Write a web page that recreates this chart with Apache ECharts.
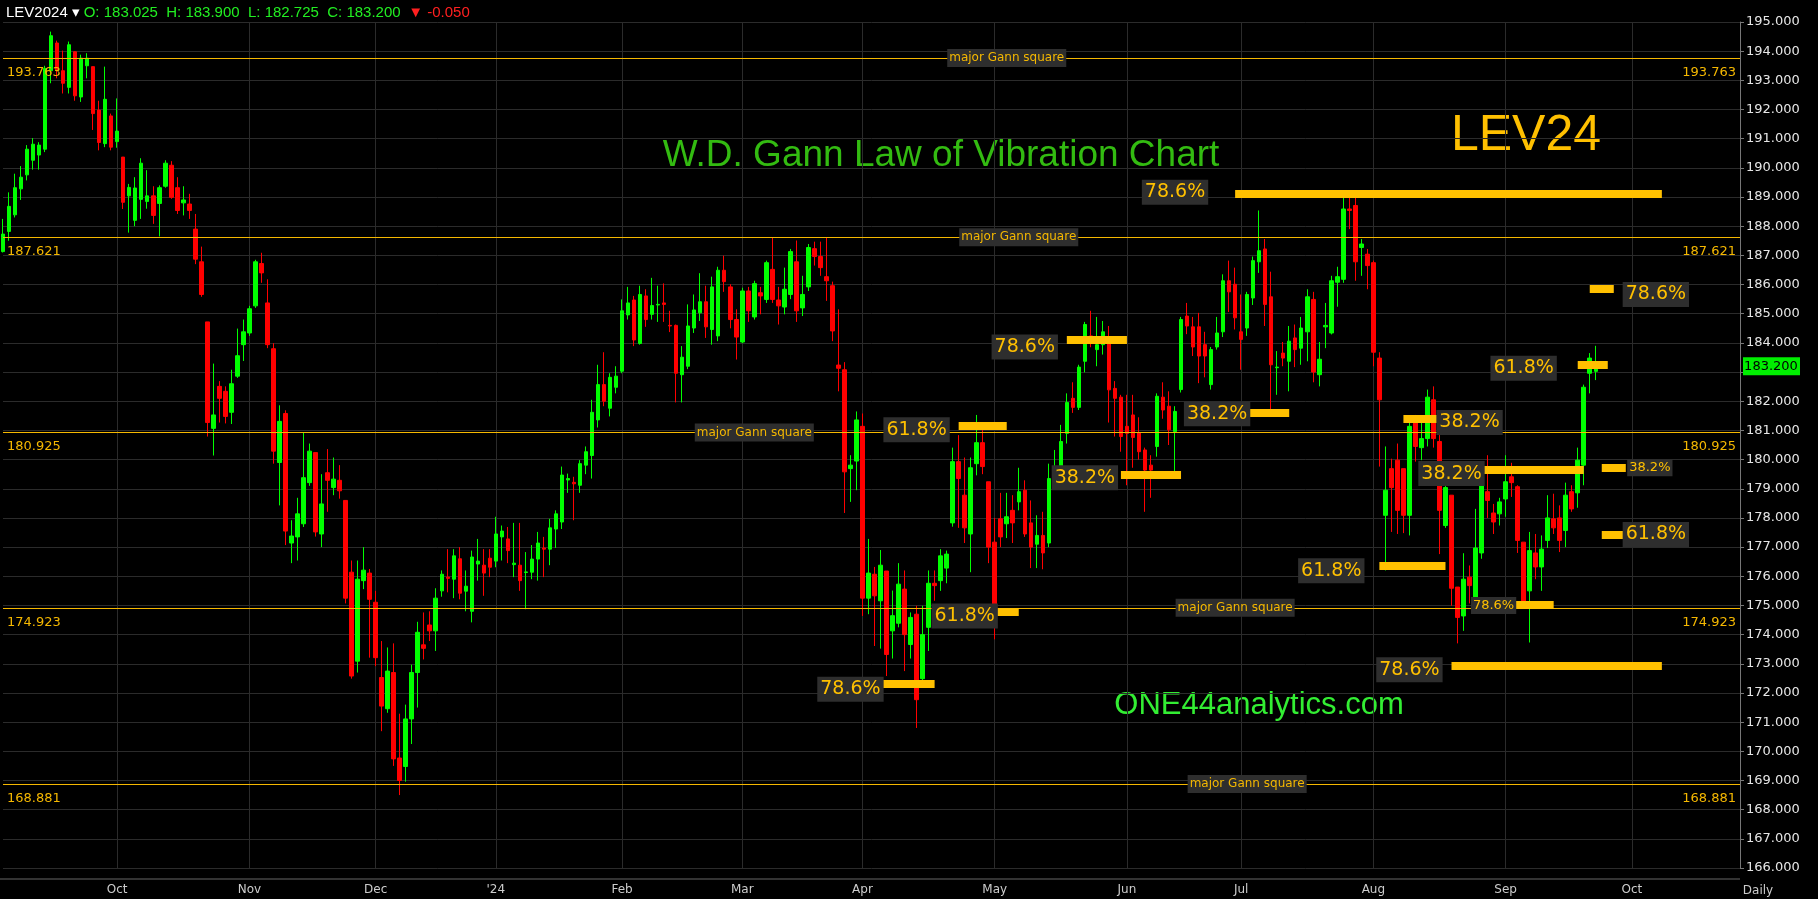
<!DOCTYPE html>
<html><head><meta charset="utf-8">
<script src="https://cdn.jsdelivr.net/npm/echarts@6/dist/echarts.min.js"></script>
<style>html,body{margin:0;padding:0;background:#000}#c{width:1818px;height:899px}</style>
</head><body><div id="c"></div>
<script>
const startDate = '2023-09-05';
const holidays = ['2023-11-23','2023-12-25','2024-01-01','2024-01-15','2024-02-19','2024-03-29','2024-05-27','2024-06-19','2024-07-04'];
const padDays = 24;
const opens = [187.13,187.82,188.39,189.28,189.76,190.26,190.44,190.64,193.33,194.28,
193.33,192.76,193.98,192.43,193.5,193.47,191.98,190.83,191.78,190.9,
190.37,189.04,188.2,188.92,188.85,189.04,188.78,189.37,190.09,189.32,
188.8,188.76,187.9,186.78,184.72,181.07,182.51,182.34,181.62,182.86,
183.94,184.34,185.27,186.72,185.37,183.8,179.9,181.58,177.14,177.35,
177.8,179.21,180.24,177.45,179.55,179.04,179.29,178.6,176.14,173.09,
175.85,176.11,175.11,172.53,171.46,172.7,169.77,169.48,171.11,172.7,
173.65,174.33,174.13,175.5,175.97,175.9,176.6,175.49,174.8,176.42,
176.38,176.62,176.52,177.35,177.28,176.4,176.38,176.13,176.14,176.59,
176.97,176.93,177.62,177.86,179.3,179.22,179.12,179.81,180.14,181.36,
182.57,181.76,182.48,183.03,184.96,185.47,183.98,185.61,184.98,185.3,
185.37,184.6,184.6,182.91,183.2,184.51,185.03,185.41,184.46,184.24,
186.49,185.92,184.8,184.03,185.78,184.89,185.72,185.49,186.52,185.47,
185.23,185.66,186.78,185.2,185.92,187.23,186.96,186.27,185.96,183.24,
183.08,179.69,179.95,181.14,175.25,176.07,175.16,176.18,174.13,174.39,
175.56,173.66,174.7,172.49,174.25,175.76,175.85,176.28,177.83,179.93,
178.78,177.45,179.86,180.58,179.24,177.17,177.97,177.8,178.26,178.55,
178.95,177.83,177.1,177.4,177.14,179.58,179.76,180.9,182.1,181.79,
183.37,184.24,183.77,183.94,184.12,182.44,182.14,181.14,181.53,180.93,
180.33,179.81,180.45,182.14,181.83,180.96,182.4,184.92,184.55,184.55,
183.94,182.57,183.86,184.38,186.13,186.01,184.38,184.51,185.54,186.78,
187.22,185.58,183.15,183.65,183.37,184.17,183.82,184.38,185.49,182.91,
184.55,184.34,186.08,186.18,188.59,188.71,187.27,187.04,186.75,183.48,
178.09,179.69,179.98,179.69,178.09,181.27,180.41,180.72,182.05,180.62,
177.74,178.78,175.63,174.64,175.97,175.25,176.8,178.9,178.17,178.14,
178.65,179.41,179.07,177.17,175.5,176.8,176.32,177.23,177.97,178.0,
177.57,178.9,178.86,179.81,182.96,183.025];
const highs = [188.25,189.16,189.80,190.06,190.78,191.02,190.88,193.5,194.67,194.36,
194.02,194.33,194.0,193.88,193.93,193.47,192.3,193.47,191.86,192.38,
190.37,189.45,189.68,190.33,189.92,189.37,189.4,190.26,190.23,189.68,
189.37,189.11,188.42,187.3,184.72,183.29,182.69,182.51,183.08,184.49,
184.8,185.27,186.85,187.09,186.18,183.99,181.86,181.69,177.92,178.69,
180.93,180.55,180.24,179.5,180.36,180.07,179.81,178.6,176.54,176.54,
177.0,176.25,175.5,173.78,173.56,173.7,171.29,171.6,172.97,174.44,
174.76,174.8,175.59,176.2,176.93,176.93,177.0,176.2,176.88,177.28,
176.93,176.93,178.04,177.74,177.69,177.83,177.83,176.83,177.07,177.52,
177.35,177.97,178.26,179.76,179.52,179.41,179.98,180.45,182.05,183.25,
183.68,182.96,183.2,185.49,185.92,185.61,185.96,185.84,186.23,185.96,
186.04,185.1,184.63,183.89,185.32,185.66,186.39,185.96,186.27,186.61,
186.99,186.01,185.15,185.89,185.92,186.13,185.92,186.82,187.61,185.92,
186.58,187.22,187.51,186.3,187.39,187.47,187.47,187.61,186.1,185.15,
183.34,180.15,181.65,181.58,177.28,176.32,176.9,176.18,175.51,176.45,
176.2,174.76,174.99,174.99,176.2,176.2,176.93,176.88,180.41,180.84,
180.07,180.07,181.53,181.1,179.24,178.0,178.86,178.86,178.78,179.72,
179.29,178.6,178.09,178.21,179.86,180.33,181.19,182.27,182.65,183.25,
184.72,185.1,184.89,184.75,184.58,182.69,182.22,182.22,182.22,181.45,
180.41,180.15,182.27,182.65,182.34,181.83,184.89,185.37,184.89,185.03,
184.38,183.86,184.89,186.35,186.82,186.58,185.66,185.75,186.96,188.54,
187.56,186.44,183.72,184.03,184.58,184.63,184.89,185.84,185.75,184.03,
185.37,186.3,186.61,189.02,189.02,189.02,187.56,187.22,186.82,183.68,
180.45,180.03,180.55,179.69,181.36,181.53,181.36,182.4,182.51,180.84,
179.12,178.78,175.63,176.79,176.37,178.31,179.29,180.15,178.48,178.69,
180.15,179.89,179.12,177.17,177.52,177.45,177.4,178.78,178.83,178.43,
179.21,179.12,180.41,182.57,183.65,183.9];
const lows = [187.1,187.5,188.3,188.9,189.57,189.94,189.94,190.54,192.9,193.07,
192.55,192.55,192.3,192.26,193.07,191.3,190.6,190.71,190.6,190.69,
188.59,187.78,188.0,188.25,188.6,188.08,187.65,189.32,188.94,188.42,
188.37,188.25,186.7,185.58,180.79,180.14,181.27,181.24,181.22,182.8,
183.38,184.24,185.2,186.06,183.82,179.86,178.43,177.07,176.45,176.54,
177.69,179.1,177.36,177.0,178.21,178.78,178.66,175.07,172.49,172.7,
175.56,173.21,172.92,170.69,171.32,169.5,168.5,168.96,170.25,171.5,
173.15,173.78,173.44,175.3,175.45,175.25,175.21,174.8,174.42,175.85,
175.33,175.97,176.31,176.54,176.45,175.97,175.5,174.87,175.9,175.85,
175.97,176.38,176.97,177.62,178.86,177.92,178.86,179.5,179.35,181.1,
181.83,181.48,182.27,182.96,184.8,183.89,183.94,184.55,184.8,184.72,
184.72,184.37,181.96,181.96,183.1,184.34,184.75,184.17,183.94,184.06,
185.75,184.5,183.43,183.99,184.72,184.8,184.98,185.37,185.37,184.63,
184.98,185.5,184.72,184.92,185.78,186.65,186.3,185.44,184.06,182.34,
178.17,178.55,178.95,174.64,174.7,173.61,173.52,172.58,173.18,174.25,
172.75,173.18,170.8,172.4,173.44,175.16,175.5,175.76,177.7,177.66,
177.14,176.14,179.46,179.5,176.45,173.84,177.0,177.31,177.14,178.26,
177.35,176.28,176.28,176.24,177.0,179.17,179.6,180.55,181.6,181.7,
182.99,183.85,183.2,183.6,181.27,180.79,180.27,179.12,179.72,180.0,
178.21,178.69,180.1,181.4,180.5,179.55,182.3,184.3,183.55,182.62,
182.82,182.4,183.77,184.2,185.06,184.46,183.08,184.24,185.3,186.4,
184.58,181.7,182.22,183.2,182.34,183.17,183.25,183.37,182.65,182.51,
183.82,184.29,185.24,186.06,187.9,186.13,186.3,185.84,183.2,179.76,
176.2,177.52,177.45,177.48,177.4,179.93,179.98,180.45,180.41,176.76,
177.66,174.99,173.7,174.13,175.07,174.87,176.6,178.0,177.45,177.74,
178.04,178.72,176.8,174.99,173.73,175.9,175.5,176.97,177.45,176.83,
177.0,178.21,178.35,179.12,182.27,182.725];
const closes = [187.73,188.68,189.32,189.68,190.64,190.81,190.78,193.41,194.53,193.36,
192.9,194.22,192.47,193.76,193.76,191.86,190.87,192.35,190.71,191.26,
188.82,189.33,189.31,190.16,189.04,188.37,189.32,190.16,188.99,188.54,
188.9,188.54,186.87,185.66,181.27,181.53,182.1,181.48,182.6,183.56,
184.38,185.17,186.78,186.4,183.94,180.29,181.31,177.55,177.38,178.14,
179.38,180.29,177.52,178.48,179.29,179.33,178.93,175.25,172.58,175.9,
176.21,175.21,173.21,171.55,172.75,169.74,169.0,171.11,172.7,174.08,
173.53,174.13,175.25,176.07,175.93,176.7,175.42,175.66,176.66,176.52,
176.11,176.31,177.45,177.55,176.88,176.45,175.85,176.15,176.59,177.14,
176.93,177.66,178.14,179.47,179.35,179.17,179.86,180.27,181.62,182.57,
182.0,182.82,182.86,185.1,185.37,184.1,185.66,184.8,185.28,185.32,
185.32,184.58,182.96,183.51,184.58,185.13,185.41,184.55,185.92,186.49,
186.1,184.8,184.2,185.78,185.1,186.03,185.61,186.75,185.49,185.27,
185.84,187.13,185.1,185.66,187.27,186.96,186.58,186.13,184.41,183.13,
179.58,179.81,181.36,175.25,176.11,175.33,176.38,173.32,174.65,175.73,
174.0,174.59,171.77,174.0,175.76,175.68,176.7,176.76,179.93,179.35,
177.66,179.72,180.58,179.76,177.0,174.87,177.35,178.04,177.83,178.9,
177.45,177.0,177.4,176.8,179.35,179.69,180.62,181.96,181.79,183.17,
184.63,184.03,183.94,184.38,182.39,182.1,180.79,180.9,180.76,180.27,
179.64,179.64,182.17,181.7,181.02,181.65,184.8,184.58,183.86,183.55,
183.55,183.77,184.34,186.13,185.75,184.86,184.12,185.66,186.82,187.16,
185.32,183.25,183.17,183.48,184.06,183.77,184.51,185.58,183.0,183.44,
184.6,186.13,186.27,188.59,188.54,186.78,187.39,186.65,183.68,182.05,
178.95,179.04,178.26,178.09,181.14,180.45,180.72,182.14,180.72,178.26,
179.04,175.59,174.59,175.9,175.68,176.97,179.12,178.6,177.86,178.55,
179.24,179.21,177.23,175.11,176.88,176.32,176.93,178.0,177.66,177.23,
178.78,178.31,179.98,182.48,183.48,183.2];
const gannLevels = [193.763, 187.621, 180.925, 174.923, 168.881];
const gannLabelIdx = [167, 169, 125, 205, 207];
// Fib bars: [label, level, startIdx, endIdx]
const fibBars = [
 ['78.6%',189.11,205,276],['78.6%',184.12,177,187],['61.8%',181.17,159,167],
 ['38.2%',179.47,186,196],['38.2%',181.62,207,214],['61.8%',174.77,164,169],
 ['78.6%',172.32,145,155],['78.6%',185.87,264,268],['61.8%',183.25,262,267],
 ['38.2%',181.39,233,239],['38.2%',179.64,246,263],['38.2%',179.72,266,270],
 ['61.8%',177.43,266,270],['61.8%',176.35,229,240],['78.6%',175.02,251,258],
 ['78.6%',172.94,241,276]];
// Fib labels: [text, idx, value, small]
const fibLabels = [
 ['78.6%',195,189.16,0],['78.6%',170,183.86,0],['61.8%',152,181.02,0],
 ['38.2%',180,179.38,0],['38.2%',202,181.57,0],['61.8%',160,174.64,0],
 ['78.6%',141,172.13,0],['78.6%',275,185.66,0],['61.8%',253,183.13,0],
 ['38.2%',244,181.27,0],['38.2%',241,179.52,0],['38.2%',274,179.72,1],
 ['61.8%',275,177.43,0],['61.8%',221,176.19,0],['78.6%',248,175.0,1],
 ['78.6%',234,172.8,0]];
const lastClose = 183.200;

const hol = new Set(holidays);
const dates = [];
let d = new Date(startDate + 'T12:00:00Z');
const total = closes.length + padDays;
while (dates.length < total) {
  const wd = d.getUTCDay();
  const s = d.toISOString().slice(0,10);
  if (wd !== 0 && wd !== 6 && !hol.has(s)) dates.push(s);
  d.setUTCDate(d.getUTCDate() + 1);
}
const mNames = ['Jan','Feb','Mar','Apr','May','Jun','Jul','Aug','Sep','Oct','Nov','Dec'];
const monthStart = {};
for (let i = 1; i < dates.length; i++) {
  if (dates[i].slice(5,7) !== dates[i-1].slice(5,7)) {
    const m = +dates[i].slice(5,7);
    monthStart[i] = (m === 1) ? "'24" : mNames[m-1];
  }
}
const candles = opens.map((o,i)=>[o, closes[i], lows[i], highs[i]]);

const GOLD = '#f5b800', FIB = '#ffc000';
const markLineData = [];
gannLevels.forEach(v => {
  markLineData.push({yAxis: v, lineStyle:{color:GOLD,width:1.2,type:'solid'},
    label:{show:true,position:'insideStartBottom',formatter:v.toFixed(3),color:GOLD,fontSize:13,fontFamily:'DejaVu Sans',distance:[4,8]}});
  markLineData.push({yAxis: v, lineStyle:{color:GOLD,width:1.2,type:'solid'},
    label:{show:true,position:'insideEndBottom',formatter:v.toFixed(3),color:GOLD,fontSize:13,fontFamily:'DejaVu Sans',distance:[4,8]}});
});
fibBars.forEach(b => {
  markLineData.push([{coord:[b[2], b[1]], lineStyle:{color:FIB,width:8,type:'solid'}, label:{show:false}},
                     {coord:[b[3], b[1]]}]);
});

const markPointData = [];
gannLevels.forEach((v,i) => markPointData.push({coord:[gannLabelIdx[i], v], symbolSize:0,
  label:{show:true,formatter:'major Gann square',color:GOLD,backgroundColor:'#2e2e2e',fontSize:12,
         fontFamily:'DejaVu Sans',padding:[3,2],position:'inside'}}));
fibLabels.forEach(f => markPointData.push({coord:[f[1], f[2]], symbolSize:0,
  label:{show:true,formatter:f[0],color:FIB,backgroundColor:'#2e2e2e',fontSize:f[3]?13:19,
         fontFamily:'DejaVu Sans',padding:f[3]?[2,2]:[3,3],position:'inside'}}));

const chart = echarts.init(document.getElementById('c'));
chart.setOption({
  backgroundColor:'#000',
  animation:false,
  grid:{left:3,right:78,top:22,height:846},
  xAxis:{type:'category',data:dates,boundaryGap:false,
    axisLine:{show:false},axisTick:{show:false},
    axisLabel:{interval:(i)=>monthStart[i]!==undefined,formatter:(v,i)=>monthStart[i]||'',
      color:'#ccc',fontSize:12,fontFamily:'DejaVu Sans',margin:16},
    splitLine:{show:true,interval:(i)=>monthStart[i]!==undefined,lineStyle:{color:'#2b2b2b',width:1}}},
  yAxis:{type:'value',position:'right',min:166,max:195,interval:1,scale:true,
    axisLine:{show:true,lineStyle:{color:'#777'}},axisTick:{show:true,length:4,lineStyle:{color:'#777'}},
    axisLabel:{formatter:v=>v.toFixed(3),color:'#e6e6e6',fontSize:13,fontFamily:'DejaVu Sans',margin:6},
    splitLine:{lineStyle:{color:'#2b2b2b',width:1}}},
  series:[{type:'candlestick',data:candles,barWidth:4,
    itemStyle:{color:'#00ff00',color0:'#ff0000',borderColor:'#00ff00',borderColor0:'#ff0000',borderWidth:1},
    markLine:{symbol:['none','none'],silent:true,animation:false,data:markLineData},
    markPoint:{symbol:'rect',symbolSize:0,silent:true,animation:false,data:markPointData}}],
  graphic:[
    {type:'text',left:6,top:5,style:{rich:{w:{fill:'#fff',fontSize:15},g:{fill:'#22ee22',fontSize:15},r:{fill:'#ff2020',fontSize:15}},
      text:'{w|LEV2024 ▾} {g|O: 183.025  H: 183.900  L: 182.725  C: 183.200}  {r|▼ -0.050}',fontFamily:'DejaVu Sans'}},
    {type:'text',x:941,y:156,style:{text:'W.D. Gann Law of Vibration Chart',fill:'#33bb11',fontSize:37,
      fontFamily:'Liberation Sans',textAlign:'center',textVerticalAlign:'middle',backgroundColor:'#000',padding:[4,6]}},
    {type:'text',x:1526,y:136,style:{text:'LEV24',fill:'#ffc000',fontSize:50,fontFamily:'Liberation Sans',
      textAlign:'center',textVerticalAlign:'middle',backgroundColor:'#000',padding:[6,6]}},
    {type:'text',x:1259,y:705,style:{text:'ONE44analytics.com',fill:'#33ee33',fontSize:31,fontFamily:'Liberation Sans',
      textAlign:'center',textVerticalAlign:'middle',backgroundColor:'#000',padding:[4,4]}},
    {type:'text',x:1758,y:885,style:{text:'Daily',fill:'#ccc',fontSize:12,fontFamily:'DejaVu Sans',textAlign:'center'}},
    {type:'line',shape:{x1:0,y1:879,x2:1740,y2:879},style:{stroke:'#666',lineWidth:1}}
  ]
});
const py = chart.convertToPixel({yAxisIndex:0}, lastClose);
chart.setOption({graphic:[
  {type:'rect',id:'tagbox',shape:{x:1743,y:py-9,width:57,height:18},style:{fill:'#00ee00'},z:100},
  {type:'text',id:'tagtxt',x:1771,y:py,style:{text:lastClose.toFixed(3),fill:'#000',fontSize:13,
    fontFamily:'DejaVu Sans',textAlign:'center',textVerticalAlign:'middle'},z:101}
]});
</script></body></html>
